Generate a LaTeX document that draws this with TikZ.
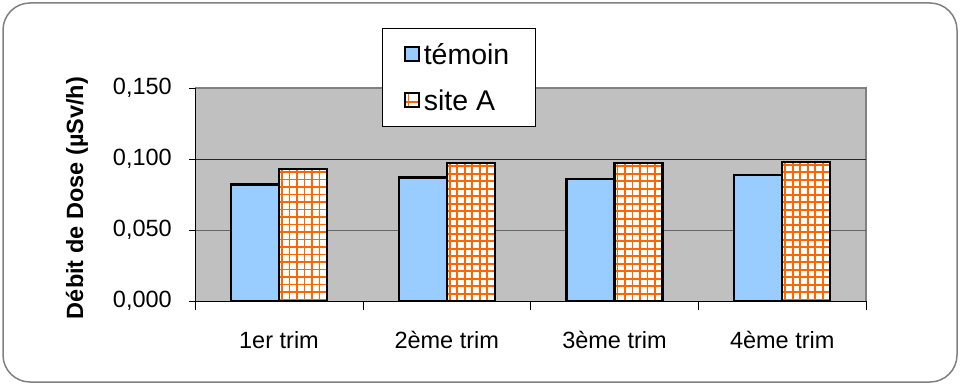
\documentclass[tikz,border=0pt]{standalone}
\usepackage{fontspec}
\setmainfont{Liberation Sans}
\usetikzlibrary{positioning}
\definecolor{plotgray}{HTML}{C0C0C0}
\definecolor{edgegray}{HTML}{808080}
\definecolor{temoinblue}{HTML}{99CCFF}
\definecolor{siteorange}{HTML}{FF6600}

\begin{document}
\begin{tikzpicture}[
  x=1pt,y=-1pt,
  lbl/.style={font=\fontsize{23.5}{27}\selectfont,inner sep=0pt},
  leglbl/.style={font=\fontsize{28.5}{32}\selectfont,inner sep=0pt},
  bar/.style={draw=black,line width=2.2pt},
  hatch/.style={siteorange,line width=1.8pt},
  key/.style={draw=black,line width=1.2pt,minimum size=14pt,inner sep=0pt}
]
\useasboundingbox (0,0) rectangle (962,385);
\draw[edgegray,line width=1.5pt,rounded corners=27pt] (3,3) rectangle (957,382);

% plot area
\fill[plotgray] (195,88) rectangle (866,301);
\draw[edgegray,line width=2pt] (195,88) -- (866,88) -- (866,301);
\draw[black!85] (195,159) -- (866,159);
\draw[black!60] (195,230) -- (866,230);

% bars
\foreach \i/\a/\b in {0/0.082/0.093,1/0.087/0.097,2/0.086/0.097,3/0.089/0.098}{
  \pgfmathsetmacro\xl{195+\i*167.75+36}
  \pgfmathsetmacro\xm{\xl+48}
  \pgfmathsetmacro\xr{\xl+96}
  \pgfmathsetmacro\ya{301-\a*1420}
  \pgfmathsetmacro\yb{301-\b*1420}
  \fill[temoinblue] (\xl,301) rectangle (\xm,\ya);
  \begin{scope}
    \clip (\xm,301) rectangle (\xr,\yb);
    \fill[white] (\xm,301) rectangle (\xr,\yb);
    \foreach \k in {0,...,6} \draw[hatch] (\xm+3+\k*7.5,\yb) -- (\xm+3+\k*7.5,301);
    \foreach \k in {0,...,18} \draw[hatch] (\xm,\yb+3+\k*7.5) -- (\xr,\yb+3+\k*7.5);
  \end{scope}
  \draw[bar] (\xl,301) rectangle (\xm,\ya);
  \draw[bar] (\xm,301) rectangle (\xr,\yb);
}

% axes
\draw (195,88) -- (195,301) -- (866,301);
\foreach \y in {88,159,230,301} \draw (189,\y) -- (195,\y);
\foreach \i in {0,...,4} \draw (195+\i*167.75,301) -- (195+\i*167.75,310);

\node[lbl,anchor=east] (y0) at (172,301) {0,000};
\node[lbl,anchor=east] (y1) at (172,230) {0,050};
\node[lbl,anchor=east] (y2) at (172,159) {0,100};
\node[lbl,anchor=east] (y3) at (172,88) {0,150};

\node[lbl] (c1) at (279,340) {1er trim};
\node[lbl] (c2) at (446.75,340) {2ème trim};
\node[lbl] (c3) at (614.5,340) {3ème trim};
\node[lbl] (c4) at (782.25,340) {4ème trim};

\node[lbl,font=\fontsize{23.5}{27}\selectfont\bfseries,rotate=90] (ylab) at (77,198) {Débit de Dose (µSv/h)};

% legend
\node[draw=black,fill=white,minimum width=153pt,minimum height=98pt,inner sep=0pt] (leg) at (458.5,77) {};
\node[key,fill=temoinblue] (k1) at (412,54) {};
\node[leglbl,anchor=west,right=4pt of k1] (l1) {témoin};
\node[key,fill=white] (k2) at (412,100) {};
\draw[hatch] ([xshift=4pt]k2.north west) -- ([xshift=4pt]k2.south west);
\draw[hatch] ([yshift=-2pt]k2.west) -- ([yshift=-2pt]k2.east);
\node[key] at (k2) {};
\node[leglbl,anchor=west,right=4pt of k2] (l2) {site A};

\end{tikzpicture}
\end{document}
